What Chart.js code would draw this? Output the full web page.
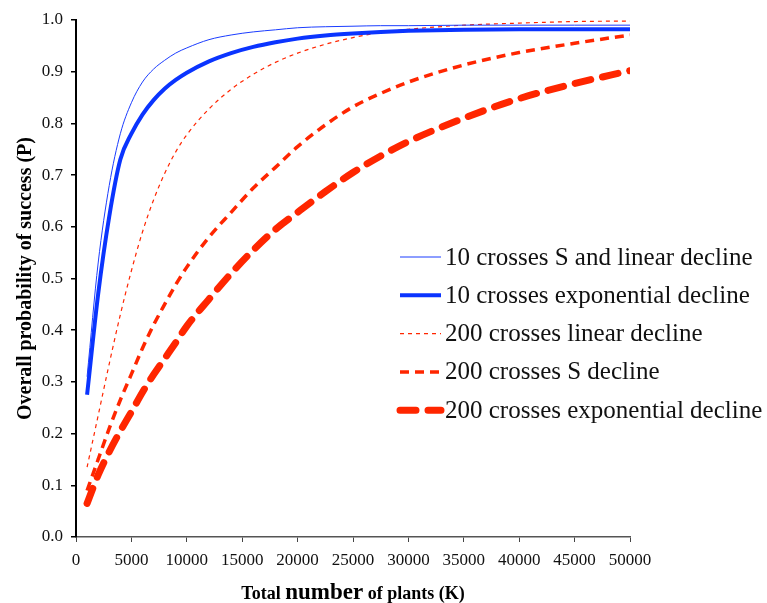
<!DOCTYPE html>
<html>
<head>
<meta charset="utf-8">
<script src="https://cdn.jsdelivr.net/npm/chart.js@4.4.1/dist/chart.umd.min.js"></script>
<style>
  body { margin: 0; background: #fff; }
  #wrap { width: 767px; height: 603px; position: relative; }
</style>
</head>
<body>
<div id="wrap"><canvas id="probChart"></canvas></div>
<script>
// total number of plants (K)
const plantsK = [1000, 2000, 3000, 4000, 5000, 6000, 7000, 8000, 9000, 10000,
    12000, 14000, 16000, 18000, 20000, 22500, 25000, 27500, 30000,
    35000, 40000, 45000, 50000];

// overall probability of success (P), one array per scenario
const cross10SLinear = [0.31, 0.53, 0.68, 0.78, 0.84, 0.88, 0.905, 0.922, 0.936, 0.946,
    0.962, 0.971, 0.977, 0.981, 0.985, 0.987, 0.988, 0.989, 0.989,
    0.99, 0.99, 0.99, 0.99];
const cross10Exp = [0.275, 0.47, 0.62, 0.73, 0.78, 0.817, 0.845, 0.867, 0.884, 0.898,
    0.92, 0.936, 0.948, 0.957, 0.964, 0.97, 0.974, 0.977, 0.979,
    0.981, 0.982, 0.982, 0.982];
const cross200Linear = [0.135, 0.235, 0.335, 0.43, 0.515, 0.59, 0.652, 0.703, 0.745, 0.778,
    0.828, 0.866, 0.895, 0.918, 0.936, 0.953, 0.966, 0.976, 0.982,
    0.99, 0.994, 0.997, 0.998];
const cross200S = [0.09, 0.15, 0.21, 0.265, 0.315, 0.365, 0.41, 0.45, 0.488, 0.522,
    0.58, 0.628, 0.675, 0.715, 0.755, 0.797, 0.832, 0.858, 0.88,
    0.913, 0.937, 0.955, 0.971];
const cross200Exp = [0.065, 0.12, 0.165, 0.205, 0.242, 0.28, 0.314, 0.345, 0.376, 0.408,
    0.46, 0.51, 0.555, 0.595, 0.628, 0.668, 0.705, 0.737, 0.765,
    0.81, 0.848, 0.877, 0.902];

const seriesLabels = [
    '10 crosses S and linear decline',
    '10 crosses exponential decline',
    '200 crosses linear decline',
    '200 crosses S decline',
    '200 crosses exponential decline'
];
const yTicks = [0, 0.1, 0.2, 0.3, 0.4, 0.5, 0.6, 0.7, 0.8, 0.9, 1.0];

const blue = '#0a34ff';
const red = '#ff2600';
const serif = '"Liberation Serif", "Times New Roman", serif';

const toPoints = arr => plantsK.map((x, i) => ({ x, y: arr[i] }));

const styles = [
    { color: '#1a3cff', width: 1, dash: [] },
    { color: blue, width: 4, dash: [] },
    { color: red, width: 1.2, dash: [4, 4] },
    { color: red, width: 3.5, dash: [9, 6] },
    { color: red, width: 7, dash: [16, 12] }
];
const allSeries = [cross10SLinear, cross10Exp, cross200Linear, cross200S, cross200Exp];

const datasets = allSeries.map((arr, i) => ({
    label: seriesLabels[i],
    data: toPoints(arr),
    borderColor: styles[i].color,
    borderWidth: styles[i].width,
    borderDash: styles[i].dash,
    borderCapStyle: i === 4 ? 'round' : 'butt',
    pointRadius: 0,
    fill: false,
    cubicInterpolationMode: 'monotone'
}));

// axis titles and legend are drawn by hand to match the figure
const decorPlugin = {
    id: 'decor',
    afterDraw(chart) {
        const ctx = chart.ctx;
        const area = chart.chartArea;
        ctx.save();
        ctx.fillStyle = '#000';

        // y title
        ctx.save();
        ctx.translate(26, (area.top + area.bottom) / 2);
        ctx.rotate(-Math.PI / 2);
        ctx.font = 'bold 20px ' + serif;
        ctx.textAlign = 'center';
        ctx.textBaseline = 'middle';
        ctx.fillText('Overall probability of success (P)', 0, 0);
        ctx.restore();

        // x title, mixed sizes
        const parts = [
            { t: 'Total ', f: 'bold 18px ' + serif },
            { t: 'number', f: 'bold 23px ' + serif },
            { t: ' of plants (K)', f: 'bold 18px ' + serif }
        ];
        let total = 0;
        parts.forEach(p => { ctx.font = p.f; p.w = ctx.measureText(p.t).width; total += p.w; });
        let x = (area.left + area.right) / 2 - total / 2;
        ctx.textAlign = 'left';
        ctx.textBaseline = 'alphabetic';
        parts.forEach(p => { ctx.font = p.f; ctx.fillText(p.t, x, 599); x += p.w; });

        // legend
        ctx.font = '25px ' + serif;
        ctx.textBaseline = 'middle';
        chart.data.datasets.forEach((ds, i) => {
            const y = 257 + i * 38.3;
            ctx.beginPath();
            ctx.strokeStyle = ds.borderColor;
            ctx.lineWidth = ds.borderWidth;
            ctx.lineCap = ds.borderCapStyle;
            ctx.setLineDash(ds.borderDash);
            ctx.moveTo(400, y);
            ctx.lineTo(441, y);
            ctx.stroke();
            ctx.setLineDash([]);
            ctx.fillStyle = '#111';
            ctx.fillText(ds.label, 445, y + 1);
        });
        ctx.restore();
    }
};

const ctx = document.getElementById('probChart').getContext('2d');
const probChart = new Chart(ctx, {
    type: 'line',
    data: { datasets },
    options: {
        responsive: true,
        maintainAspectRatio: false,
        animation: false,
        layout: { padding: { left: 0, right: 137, top: 20, bottom: 0 } },
        plugins: {
            legend: { display: false },
            tooltip: { enabled: false }
        },
        scales: {
            x: {
                type: 'linear',
                min: 0,
                max: 50000,
                afterFit: scale => { scale.height = 66; },
                ticks: {
                    stepSize: 5000,
                    maxRotation: 0,
                    padding: 8,
                    color: '#111',
                    font: { family: serif, size: 17 },
                    callback: v => String(v)
                },
                grid: { drawOnChartArea: false, tickLength: 5, color: '#444' },
                border: { color: '#555', width: 1.5 }
            },
            y: {
                min: 0,
                max: 1,
                afterFit: scale => { scale.width = 76; },
                afterBuildTicks: scale => { scale.ticks = yTicks.map(v => ({ value: v })); },
                ticks: {
                    padding: 8,
                    color: '#111',
                    font: { family: serif, size: 17 },
                    callback: v => Number(v).toFixed(1)
                },
                grid: { drawOnChartArea: false, tickLength: 5, color: '#000', lineWidth: 1.5 },
                border: { color: '#000', width: 2 }
            }
        }
    },
    plugins: [decorPlugin]
});
</script>
</body>
</html>
